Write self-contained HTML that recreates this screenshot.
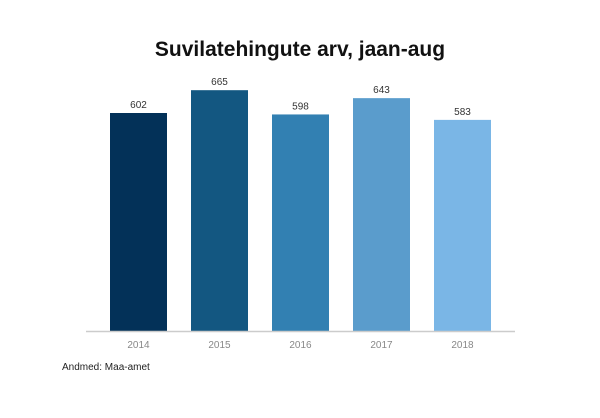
<!DOCTYPE html>
<html><head><meta charset="utf-8"><style>
body{margin:0;background:#fff;width:600px;height:413px;overflow:hidden;font-family:"Liberation Sans",sans-serif}
</style></head><body>
<svg width="600" height="413">
<text x="300" y="56" text-anchor="middle" font-size="21" font-weight="bold" fill="#111">Suvilatehingute arv, jaan-aug</text>
<g id="bars"></g>
<line x1="86" x2="515" y1="331.5" y2="331.5" stroke="#ccc" stroke-width="1.5"/>
<text x="62" y="370" font-size="10" fill="#222">Andmed: Maa-amet</text>
</svg>
<script>
const categories=["2014","2015","2016","2017","2018"];
const values=[602,665,598,643,583];
const colors=["#033158","#135781","#3280b2","#5a9ccc","#7ab6e6"];
const g=document.getElementById('bars');
const NS='http://www.w3.org/2000/svg';
const base=331, k=218/602;
const xC=i=>138.5+i*81, yS=v=>base-v*k;
categories.forEach((c,i)=>{
 const r=document.createElementNS(NS,'rect');
 r.setAttribute('x',xC(i)-28.5);r.setAttribute('width',57);
 r.setAttribute('y',yS(values[i]));r.setAttribute('height',base-yS(values[i]));
 r.setAttribute('fill',colors[i]);
 
 
 g.appendChild(r);
 const t=document.createElementNS(NS,'text');
 t.setAttribute('x',xC(i));t.setAttribute('y',yS(values[i])-5);
 t.setAttribute('text-anchor','middle');t.setAttribute('font-size','10');t.setAttribute('fill','#333');
 t.textContent=values[i];
 
 
 g.appendChild(t);
 const l=document.createElementNS(NS,'text');
 l.setAttribute('x',xC(i));l.setAttribute('y',348);
 l.setAttribute('text-anchor','middle');l.setAttribute('font-size','10');l.setAttribute('fill','#888');
 l.textContent=c;
 
 
 g.appendChild(l);
});
</script>
</body></html>
